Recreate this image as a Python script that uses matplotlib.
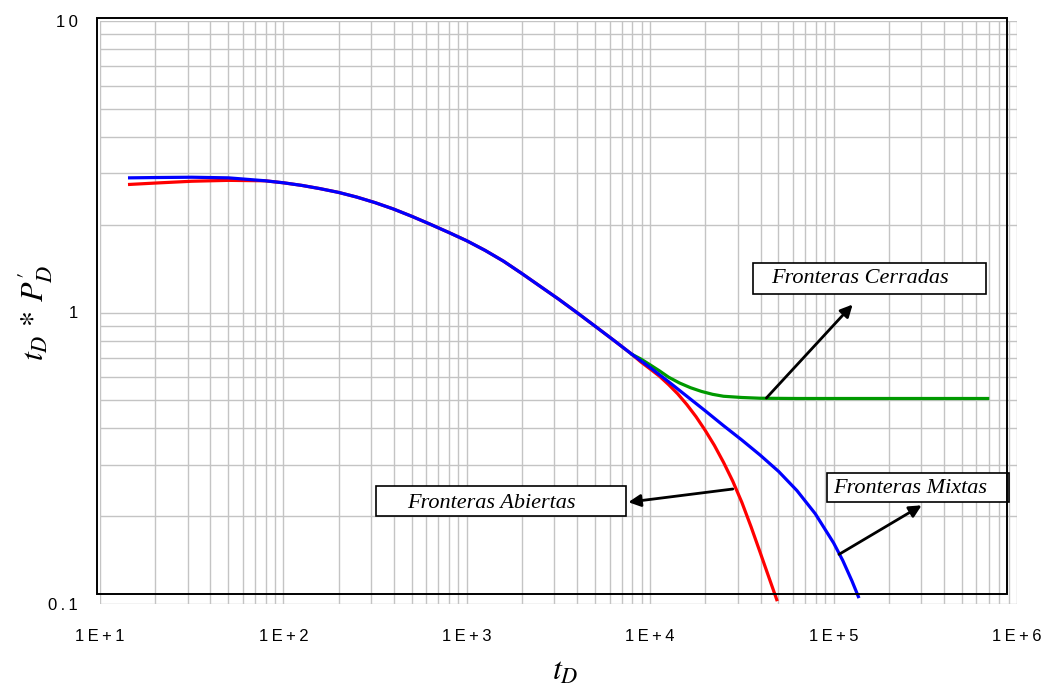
# Curvas tipo t_D * P'_D vs t_D para distintas fronteras
import math
import matplotlib.pyplot as plt
from matplotlib.patches import Rectangle
from matplotlib.ticker import FixedLocator, FuncFormatter, LogLocator, NullFormatter

plt.rcParams['mathtext.fontset'] = 'stix'

# Fronteras Mixtas (azul)
t_mixtas = [14.5, 20, 31.6, 50.1, 79.4, 100, 126, 158, 200, 251, 316, 398, 501, 631, 794,
            1000, 1259, 1585, 1995, 2512, 3162, 3981, 5012, 6310, 7943, 8913, 10000, 12589,
            15849, 19953, 25119, 31623, 39811, 50119, 63096, 79433, 100000, 112202, 125893,
            136458]
p_mixtas = [2.897, 2.904, 2.911, 2.897, 2.831, 2.786, 2.729, 2.661, 2.582, 2.489, 2.382,
            2.265, 2.138, 2.009, 1.884, 1.762, 1.633, 1.500, 1.361, 1.230, 1.112, 1.000,
            0.897, 0.804, 0.719, 0.682, 0.647, 0.579, 0.516, 0.460, 0.409, 0.365, 0.324,
            0.285, 0.245, 0.204, 0.162, 0.141, 0.120, 0.106]

# Fronteras Abiertas (rojo)
t_abiertas = [14.5, 20, 31.6, 50.1, 79.4, 100, 126, 158, 200, 251, 316, 398, 501, 631, 794,
              1000, 1259, 1585, 1995, 2512, 3162, 3981, 5012, 6310, 7943, 8913, 10000, 11220,
              12589, 14125, 15849, 17783, 19953, 22387, 25119, 28184, 31623, 35481, 39811,
              44668, 48978]
p_abiertas = [2.75, 2.78, 2.82, 2.84, 2.83, 2.786, 2.729, 2.661, 2.582, 2.489, 2.382,
              2.265, 2.138, 2.009, 1.884, 1.762, 1.633, 1.500, 1.361, 1.230, 1.112, 1.000,
              0.897, 0.804, 0.719, 0.676, 0.640, 0.605, 0.566, 0.526, 0.483, 0.439, 0.394,
              0.350, 0.306, 0.264, 0.223, 0.184, 0.150, 0.122, 0.1035]

# Fronteras Cerradas (verde)
t_cerradas = [7943, 8913, 10000, 11220, 12589, 14454, 16596, 19055, 21878, 25119, 31623,
              39811, 63096, 158489, 398107, 691831]
p_cerradas = [0.719, 0.692, 0.661, 0.631, 0.600, 0.573, 0.552, 0.536, 0.524, 0.516, 0.511,
              0.508, 0.507, 0.507, 0.507, 0.507]

fig = plt.figure(figsize=(10.52, 6.86), dpi=100)
ax = fig.add_axes([100 / 1052, 1 - 604 / 686, 917 / 1052, 583 / 686])
ax.set_xscale('log')
ax.set_yscale('log')
ax.set_xlim(10, 1e6)
ax.set_ylim(0.1, 10)

ax.plot(t_abiertas, p_abiertas, color='#ff0000', lw=2.3, zorder=3)
ax.plot(t_cerradas, p_cerradas, color='#009900', lw=2.3, zorder=3)
ax.plot(t_mixtas, p_mixtas, color='#0000ff', lw=2.3, zorder=4)

# rejilla
ax.xaxis.set_major_locator(FixedLocator([10, 100, 1e3, 1e4, 1e5, 1e6]))
ax.xaxis.set_minor_locator(LogLocator(base=10, subs=range(2, 10), numticks=20))
ax.yaxis.set_major_locator(FixedLocator([0.1, 1, 10]))
ax.yaxis.set_minor_locator(LogLocator(base=10, subs=range(2, 10), numticks=20))
ax.grid(True, which='both', color='#c4c4c4', lw=1.0)
ax.set_axisbelow(True)
for s in ax.spines.values():
    s.set_visible(False)

ax.xaxis.set_major_formatter(FuncFormatter(
    lambda v, p: '1\u2009E\u2009+\u2009%d' % round(math.log10(v))))
ylabels = {-1: '0\u2009.\u20091', 0: '1', 1: '1\u20090'}
ax.yaxis.set_major_formatter(FuncFormatter(lambda v, p: ylabels[round(math.log10(v))]))
ax.xaxis.set_minor_formatter(NullFormatter())
ax.yaxis.set_minor_formatter(NullFormatter())
ax.tick_params(which='both', length=0)
ax.tick_params(axis='x', pad=18)
ax.tick_params(axis='y', pad=16)
for lab in ax.get_xticklabels() + ax.get_yticklabels():
    lab.set_family(['Liberation Sans', 'DejaVu Sans'])
    lab.set_fontsize(12)

# marco (desplazado respecto de la rejilla, como en el original)
fig.add_artist(Rectangle((97 / 1052, 1 - 594 / 686), 910 / 1052, 576 / 686,
                         transform=fig.transFigure, fill=False, ec='black', lw=1.4, zorder=10))

ax.set_xlabel(r'$t_D$', fontsize=23, va='center')
ax.xaxis.set_label_coords(0.507, -0.115)
ax.set_ylabel(r"$t_D\,*\,P^{\prime}_D$", fontsize=23, va='center')
ax.yaxis.set_label_coords(-0.071, 0.5)

# cuadros de texto con flechas
box_font = dict(family='Liberation Serif', style='italic', fontsize=16)
arrow = dict(arrowstyle='-|>', color='black', lw=2, mutation_scale=18, shrinkA=0, shrinkB=0)

ax.add_patch(Rectangle((36200, 1.159), 678000 - 36200, 1.476 - 1.159,
                       fill=True, fc='white', ec='black', lw=1.2, zorder=6))
ax.text(45900, 1.308, 'Fronteras Cerradas', va='center', ha='left', zorder=7, **box_font)
ax.annotate('', xy=(1.27e5, 1.065), xytext=(43000, 0.509), arrowprops=arrow, zorder=8)

ax.add_patch(Rectangle((320, 0.200), 7380 - 320, 0.253 - 0.200,
                       fill=True, fc='white', ec='black', lw=1.2, zorder=6))
ax.text(470, 0.222, 'Fronteras Abiertas', va='center', ha='left', zorder=7, **box_font)
ax.annotate('', xy=(7600, 0.2235), xytext=(28200, 0.248), arrowprops=arrow, zorder=8)

ax.add_patch(Rectangle((91600, 0.2235), 899000 - 91600, 0.281 - 0.2235,
                       fill=True, fc='white', ec='black', lw=1.2, zorder=6))
ax.text(99300, 0.250, 'Fronteras Mixtas', va='center', ha='left', zorder=7, **box_font)
ax.annotate('', xy=(3.02e5, 0.218), xytext=(1.07e5, 0.148), arrowprops=arrow, zorder=8)

fig.savefig('out.png', dpi=100)
